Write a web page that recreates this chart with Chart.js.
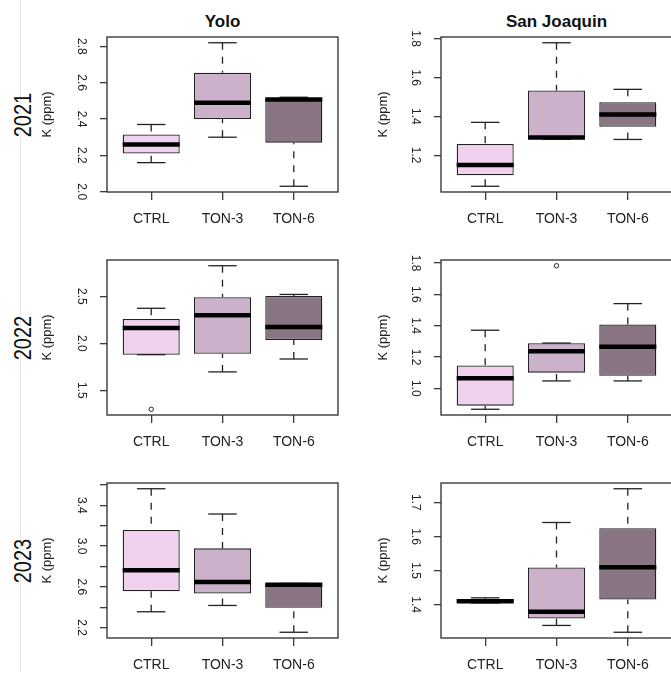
<!doctype html>
<html lang="en">

<head>
    <meta charset="utf-8">
    <title>K (ppm) by treatment, Yolo and San Joaquin, 2021-2023</title>
    <style>
        body {
            margin: 0;
            width: 671px;
            height: 675px;
            overflow: hidden;
            background: #fff;
            position: relative;
            font-family: "Liberation Sans", Arial, sans-serif;
            color: #111;
        }

        canvas {
            position: absolute;
        }

        .rule {
            position: absolute;
            left: 20px;
            top: 0;
            width: 1px;
            height: 672px;
            background: #e6e6e6;
        }

        .site {
            position: absolute;
            top: 21px;
            font-size: 17px;
            font-weight: bold;
            line-height: 1;
            transform: translate(-50%, -50%);
            white-space: nowrap;
        }

        .year {
            position: absolute;
            left: 23px;
            font-size: 20px;
            line-height: 1;
            transform: translate(-50%, -50%) rotate(-90deg) scaleY(1.18);
        }
    </style>
</head>

<body>
    <div class="rule"></div>
    <div class="site" style="left:222.5px">Yolo</div>
    <div class="site" style="left:556.5px">San Joaquin</div>
    <div class="year" style="top:115px">2021</div>
    <div class="year" style="top:338px">2022</div>
    <div class="year" style="top:561px">2023</div>

    <canvas id="yolo2021" width="340" height="225" style="left:0;top:0"></canvas>
    <canvas id="sj2021" width="340" height="225" style="left:340px;top:0"></canvas>
    <canvas id="yolo2022" width="340" height="225" style="left:0;top:225px"></canvas>
    <canvas id="sj2022" width="340" height="225" style="left:340px;top:225px"></canvas>
    <canvas id="yolo2023" width="340" height="225" style="left:0;top:450px"></canvas>
    <canvas id="sj2023" width="340" height="225" style="left:340px;top:450px"></canvas>

    <script src="https://cdn.jsdelivr.net/npm/chart.js@4.4.1/dist/chart.umd.min.js"></script>
    <script>
        const GROUPS = ["CTRL", "TON-3", "TON-6"];
        const FILLS = ["#f0d2ee", "#ccb1ca", "#8a7585"];

        // [lower whisker, Q1, median, Q3, upper whisker] for CTRL, TON-3, TON-6
        const yolo2021 = [[2.16, 2.21, 2.26, 2.315, 2.37], [2.30, 2.40, 2.49, 2.655, 2.82], [2.03, 2.27, 2.507, 2.515, 2.52]];
        const sanJoaquin2021 = [[1.04, 1.097, 1.15, 1.258, 1.369], [1.282, 1.282, 1.291, 1.533, 1.779], [1.281, 1.346, 1.41, 1.473, 1.539]];
        const yolo2022 = [[1.88, 1.88, 2.164, 2.26, 2.373], [1.697, 1.889, 2.30, 2.49, 2.825], [1.834, 2.035, 2.175, 2.503, 2.52]];
        const sanJoaquin2022 = [[0.866, 0.889, 1.064, 1.146, 1.371], [1.047, 1.10, 1.236, 1.288, 1.289], [1.047, 1.08, 1.265, 1.408, 1.541]];
        const yolo2023 = [[2.356, 2.558, 2.763, 3.159, 3.563], [2.418, 2.535, 2.649, 2.978, 3.315], [2.155, 2.395, 2.62, 2.634, 2.634]];
        const sanJoaquin2023 = [[1.405, 1.407, 1.41, 1.415, 1.42], [1.339, 1.359, 1.379, 1.509, 1.641], [1.319, 1.415, 1.51, 1.624, 1.74]];

        // points beyond the whiskers
        const noOutliers = [[], [], []];
        const yolo2022Outliers = [[1.30], [], []];
        const sanJoaquin2022Outliers = [[], [1.783], []];

        // y ticks and their labels ("" = tick mark only)
        const yolo2021Ticks = [2.0, 2.2, 2.4, 2.6, 2.8];
        const yolo2021TickLabels = ["2.0", "2.2", "2.4", "2.6", "2.8"];
        const sanJoaquin2021Ticks = [1.2, 1.4, 1.6, 1.8];
        const sanJoaquin2021TickLabels = ["1.2", "1.4", "1.6", "1.8"];
        const yolo2022Ticks = [1.5, 2.0, 2.5];
        const yolo2022TickLabels = ["1.5", "2.0", "2.5"];
        const sanJoaquin2022Ticks = [1.0, 1.2, 1.4, 1.6, 1.8];
        const sanJoaquin2022TickLabels = ["1.0", "1.2", "1.4", "1.6", "1.8"];
        const yolo2023Ticks = [2.2, 2.4, 2.6, 2.8, 3.0, 3.2, 3.4, 3.6];
        const yolo2023TickLabels = ["2.2", "", "2.6", "", "3.0", "", "3.4", ""];
        const sanJoaquin2023Ticks = [1.4, 1.5, 1.6, 1.7];
        const sanJoaquin2023TickLabels = ["1.4", "1.5", "1.6", "1.7"];

        // R-style x range: 0.5..3.5 widened by 4%
        const X_MIN = 0.38, X_MAX = 3.62;
        const BOX_WIDTH = 0.8, STAPLE_WIDTH = 0.4;

        const INK = "#222";
        const FRAME = "#3a3a3a";

        // per column: padding left/right and y-axis width; per row: plot top inside its canvas
        const COLS = [{ left: 30, right: 2, axis: 77 }, { left: 26, right: 8, axis: 75 }];
        const ROW_TOPS = [37, 35, 33];
        const PLOT_H = 155, CANVAS_H = 225;

        const panels = [
            { id: "yolo2021", stats: yolo2021, out: noOutliers, ticks: yolo2021Ticks, labels: yolo2021TickLabels, row: 0, col: 0 },
            { id: "sj2021", stats: sanJoaquin2021, out: noOutliers, ticks: sanJoaquin2021Ticks, labels: sanJoaquin2021TickLabels, row: 0, col: 1 },
            { id: "yolo2022", stats: yolo2022, out: yolo2022Outliers, ticks: yolo2022Ticks, labels: yolo2022TickLabels, row: 1, col: 0 },
            { id: "sj2022", stats: sanJoaquin2022, out: sanJoaquin2022Outliers, ticks: sanJoaquin2022Ticks, labels: sanJoaquin2022TickLabels, row: 1, col: 1 },
            { id: "yolo2023", stats: yolo2023, out: noOutliers, ticks: yolo2023Ticks, labels: yolo2023TickLabels, row: 2, col: 0 },
            { id: "sj2023", stats: sanJoaquin2023, out: noOutliers, ticks: sanJoaquin2023Ticks, labels: sanJoaquin2023TickLabels, row: 2, col: 1 }
        ];

        // whiskers, staples, medians and the plot frame
        const boxplotPlugin = {
            id: "boxplot",
            afterDatasetsDraw(chart, args, opts) {
                const { ctx, chartArea, scales: { x, y } } = chart;
                const seg = (x0, y0, x1, y1) => {
                    ctx.beginPath();
                    ctx.moveTo(x0, y0);
                    ctx.lineTo(x1, y1);
                    ctx.stroke();
                };
                ctx.save();
                opts.stats.forEach((s, i) => {
                    const c = i + 1;
                    const cx = x.getPixelForValue(c);
                    const sl = x.getPixelForValue(c - STAPLE_WIDTH / 2), sr = x.getPixelForValue(c + STAPLE_WIDTH / 2);
                    const bl = x.getPixelForValue(c - BOX_WIDTH / 2), br = x.getPixelForValue(c + BOX_WIDTH / 2);
                    ctx.strokeStyle = INK;
                    ctx.lineWidth = 1.3;
                    ctx.setLineDash([7, 7]);
                    [[s[0], s[1]], [s[4], s[3]]].forEach(([end, edge]) => {
                        if (end !== edge) seg(cx, y.getPixelForValue(end), cx, y.getPixelForValue(edge));
                    });
                    ctx.setLineDash([]);
                    [s[0], s[4]].forEach(v => seg(sl, y.getPixelForValue(v), sr, y.getPixelForValue(v)));
                    ctx.strokeStyle = "#000";
                    ctx.lineWidth = 4.5;
                    seg(bl, y.getPixelForValue(s[2]), br, y.getPixelForValue(s[2]));
                });
                ctx.strokeStyle = FRAME;
                ctx.lineWidth = 1.4;
                ctx.strokeRect(chartArea.left, chartArea.top, chartArea.right - chartArea.left, chartArea.bottom - chartArea.top);
                ctx.restore();
            }
        };

        Chart.defaults.font.family = "'Liberation Sans', Arial, sans-serif";
        Chart.defaults.color = INK;

        panels.forEach(p => {
            const col = COLS[p.col];
            const top = ROW_TOPS[p.row];
            // x axis box runs from the plot bottom to the canvas bottom, so labels are not clipped
            const xAxisH = CANVAS_H - top - PLOT_H;
            const values = p.stats.flat().concat(p.out.flat());
            const lo = Math.min(...values), hi = Math.max(...values);
            const pad = (hi - lo) * 0.04;

            new Chart(p.id, {
                type: "bar",
                data: {
                    datasets: [{
                        data: p.stats.map((s, i) => ({ x: i + 1, y: [s[1], s[3]] })),
                        backgroundColor: FILLS,
                        borderColor: INK,
                        borderWidth: 1.3,
                        borderSkipped: false,
                        categoryPercentage: 1,
                        barPercentage: BOX_WIDTH,
                        order: 2
                    }, {
                        type: "scatter",
                        data: p.out.flatMap((vals, i) => vals.map(v => ({ x: i + 1, y: v }))),
                        pointStyle: "circle",
                        pointRadius: 2.2,
                        borderColor: INK,
                        borderWidth: 1,
                        backgroundColor: "rgba(0,0,0,0)",
                        order: 1
                    }]
                },
                options: {
                    responsive: false,
                    animation: false,
                    layout: {
                        autoPadding: false,
                        padding: { left: col.left, right: col.right, top: top, bottom: 0 }
                    },
                    scales: {
                        x: {
                            type: "linear",
                            min: X_MIN,
                            max: X_MAX,
                            offset: false,
                            afterBuildTicks: s => { s.ticks = GROUPS.map((g, i) => ({ value: i + 1 })); },
                            afterFit: s => { s.height = xAxisH; },
                            ticks: {
                                callback: v => GROUPS[v - 1],
                                autoSkip: false,
                                maxRotation: 0,
                                padding: 11,
                                font: { size: 14 }
                            },
                            grid: { offset: false, drawOnChartArea: false, tickLength: 8, color: FRAME, lineWidth: 1.3 },
                            border: { display: false }
                        },
                        y: {
                            type: "linear",
                            min: lo - pad,
                            max: hi + pad,
                            afterBuildTicks: s => { s.ticks = p.ticks.map(v => ({ value: v })); },
                            afterFit: s => { s.width = col.axis; },
                            ticks: {
                                callback: (v, i) => p.labels[i],
                                autoSkip: false,
                                minRotation: -90,
                                maxRotation: -90,
                                crossAlign: "center",
                                padding: 10,
                                font: { size: 12 }
                            },
                            grid: { offset: false, drawOnChartArea: false, tickLength: 7, color: FRAME, lineWidth: 1.3 },
                            border: { display: false },
                            title: {
                                display: true,
                                text: "K (ppm)",
                                font: { size: 13 },
                                padding: { top: 10, bottom: 0 }
                            }
                        }
                    },
                    plugins: {
                        legend: { display: false },
                        tooltip: { enabled: false },
                        boxplot: { stats: p.stats }
                    }
                },
                plugins: [boxplotPlugin]
            });
        });
    </script>
</body>

</html>
